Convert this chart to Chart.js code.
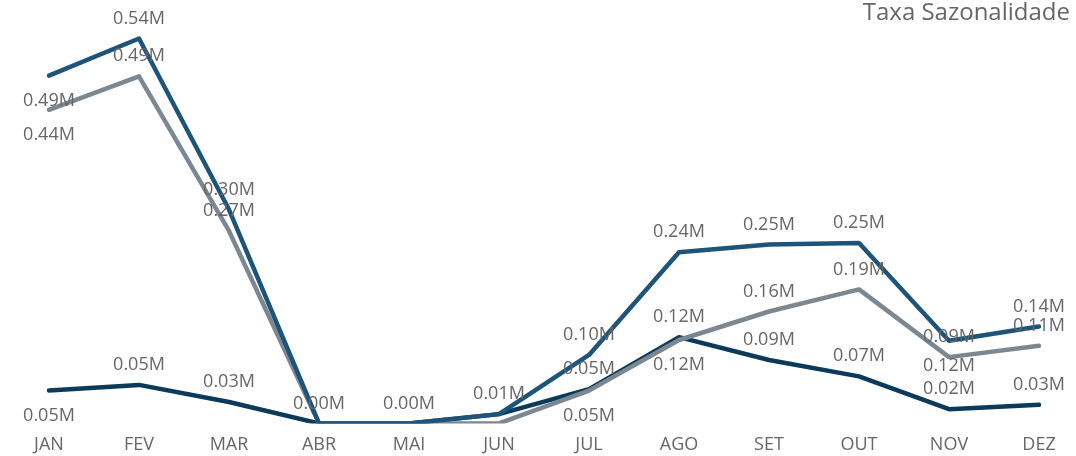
<!DOCTYPE html>
<html>
<head>
<meta charset="utf-8">
<script src="https://cdn.jsdelivr.net/npm/chart.js@4"></script>
<style>
    body { margin: 0; background: #fff; }
    #wrap { position: relative; width: 1076px; height: 456px; }
    #title { position: absolute; right: 6px; top: -6px; font: 24px "Open Sans", sans-serif; color: #666; }
</style>
</head>
<body>
<div id="wrap">
    <canvas id="chart" width="1076" height="456"></canvas>
    <div id="title">Taxa Sazonalidade</div>
</div>
<script>
const months = ["JAN", "FEV", "MAR", "ABR", "MAI", "JUN", "JUL", "AGO", "SET", "OUT", "NOV", "DEZ"];
const serieTopo = [0.488, 0.54, 0.30, 0, 0, 0.013, 0.096, 0.24, 0.251, 0.253, 0.116, 0.136];
const serieCinza = [0.44, 0.487, 0.27, 0, 0, 0, 0.046, 0.117, 0.157, 0.188, 0.093, 0.109];
const serieBase = [0.046, 0.054, 0.03, 0, 0, 0.013, 0.048, 0.121, 0.089, 0.066, 0.02, 0.026];

// a = label above, b = below, null = hidden (as in the original)
const posTopo = ["b", "a", "a", null, null, "a", "a", "a", "a", "a", "b", "a"];
const posCinza = ["b", "a", "a", null, null, null, "b", "b", "a", "a", "a", "a"];
const posBase = ["b", "a", "a", "a", "a", null, "a", "a", "a", "a", "a", "a"];

const labelPlugin = {
    id: "pointLabels",
    afterDatasetsDraw(chart) {
        const ctx = chart.ctx;
        ctx.save();
        ctx.font = '18px "Open Sans", sans-serif';
        ctx.fillStyle = "#666";
        ctx.textAlign = "center";
        ctx.textBaseline = "middle";
        chart.data.datasets.forEach((ds, i) => {
            const meta = chart.getDatasetMeta(i);
            meta.data.forEach((pt, j) => {
                const p = ds.labelPos[j];
                if (!p) return;
                const dy = p === "a" ? -20 : 25;
                ctx.fillText(ds.data[j].toFixed(2) + "M", pt.x, pt.y + dy);
            });
        });
        ctx.restore();
    },
};

new Chart(document.getElementById("chart"), {
    type: "line",
    data: {
        labels: months,
        datasets: [
            { label: "Topo", data: serieTopo, borderColor: "#1e5479", labelPos: posTopo },
            { label: "Cinza", data: serieCinza, borderColor: "#7b8791", labelPos: posCinza },
            { label: "Base", data: serieBase, borderColor: "#0b3a5a", labelPos: posBase },
        ],
    },
    options: {
        responsive: false,
        animation: false,
        layout: { padding: { left: 49, right: 37, top: 10, bottom: -3 } },
        elements: {
            line: { borderWidth: 4.5, tension: 0, borderJoinStyle: "round", borderCapStyle: "round" },
            point: { radius: 0 },
        },
        plugins: { legend: { display: false }, tooltip: { enabled: false } },
        scales: {
            x: {
                offset: false,
                grid: { display: false },
                border: { display: false },
                ticks: { color: "#666", font: { size: 18, family: '"Open Sans", sans-serif' }, padding: 3, maxRotation: 0 },
            },
            y: { display: false, min: 0, max: 0.58 },
        },
    },
    plugins: [labelPlugin],
});
</script>
</body>
</html>
